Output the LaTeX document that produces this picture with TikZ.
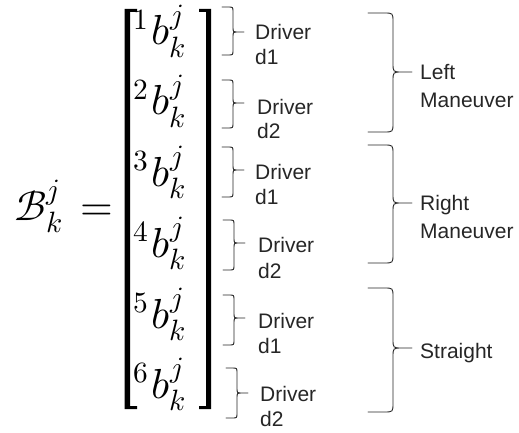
\documentclass[tikz,border=0pt]{standalone}
\usepackage{amsmath}
\usepackage{fontspec}
\usepackage{unicode-math}
\setmathfont{Latin Modern Math}
\newfontfamily\labelfont{Liberation Sans}
\begin{document}
\begin{tikzpicture}[x=1pt,y=-1pt,
  mathbig/.style={inner sep=0pt,font=\fontsize{42}{50}\selectfont},
  lbl/.style={inner sep=0pt,anchor=base west,text=black!85,font=\labelfont\fontsize{21}{25}\selectfont},
  bracestyle/.style={draw=black!85,line width=0.9pt,line join=round,line cap=round}]
\useasboundingbox (0,0) rectangle (519,433);

% left-hand side
\node[mathbig,anchor=base west] (lhs) at (14,220) {$\mathcal{B}_k^{j}$};
\node[mathbig,anchor=base] (eq) at (97,220) {$=$};

% square brackets of the column vector
\fill[black] (124.5,9) -- (137,9) -- (137,12) -- (130,12) -- (130,406)
  -- (137,406) -- (137,409) -- (124.5,409) -- cycle;
\fill[black] (211,9) -- (199,9) -- (199,12) -- (206,12) -- (206,406)
  -- (199,406) -- (199,409) -- (211,409) -- cycle;

% entries
\foreach \i/\yb in {1/45,2/115,3/186,4/257,5/328,6/398}
  \node[mathbig,anchor=base west] (e\i) at (133,\yb) {${}^{\i}\mkern1.5mu b_k^{j}$};

% right brace: x start, x of spine, x of tip, top, tip y, bottom, radius
\newcommand{\sketchbrace}[7]{%
  \draw[bracestyle] (#1,#4) -- (#2-#7,#4) .. controls (#2,#4) .. (#2,#4+#7)
    -- (#2,#5-#7) .. controls (#2,#5) .. (#2+#7,#5) -- (#3,#5)
    (#2+#7,#5) .. controls (#2,#5) .. (#2,#5+#7)
    -- (#2,#6-#7) .. controls (#2,#6) .. (#2-#7,#6) -- (#1,#6);}

% braces per driver
\sketchbrace{222}{233}{244}{7}{32}{55}{5}
\sketchbrace{222}{233}{244}{80}{103}{128}{5}
\sketchbrace{222}{233}{244}{147}{170}{197}{5}
\sketchbrace{223}{234}{245}{220}{243}{270}{5}
\sketchbrace{223}{234}{245}{295}{318}{345}{5}
\sketchbrace{226}{237}{248}{368}{393}{418}{5}

% driver labels
\node[lbl] (d1a) at (255,40) {Driver};  \node[lbl] (d1b) at (255,65) {d1};
\node[lbl] (d2a) at (257,114) {Driver}; \node[lbl] (d2b) at (257,139) {d2};
\node[lbl] (d3a) at (255,179) {Driver}; \node[lbl] (d3b) at (255,204) {d1};
\node[lbl] (d4a) at (258,252) {Driver}; \node[lbl] (d4b) at (258,278) {d2};
\node[lbl] (d5a) at (258,328) {Driver}; \node[lbl] (d5b) at (258,353) {d1};
\node[lbl] (d6a) at (260,401) {Driver}; \node[lbl] (d6b) at (260,426) {d2};

% braces per maneuver
\sketchbrace{368}{393}{412}{13}{72}{132}{9}
\sketchbrace{368}{393}{412}{145}{203}{263}{9}
\sketchbrace{368}{393}{412}{288}{348}{412}{9}

% maneuver labels
\node[lbl] (ma) at (420,80) {Left};   \node[lbl] (mb) at (420,108) {Maneuver};
\node[lbl] (mc) at (420,210) {Right}; \node[lbl] (md) at (420,238) {Maneuver};
\node[lbl] (me) at (420,358) {Straight};
\end{tikzpicture}
\end{document}
